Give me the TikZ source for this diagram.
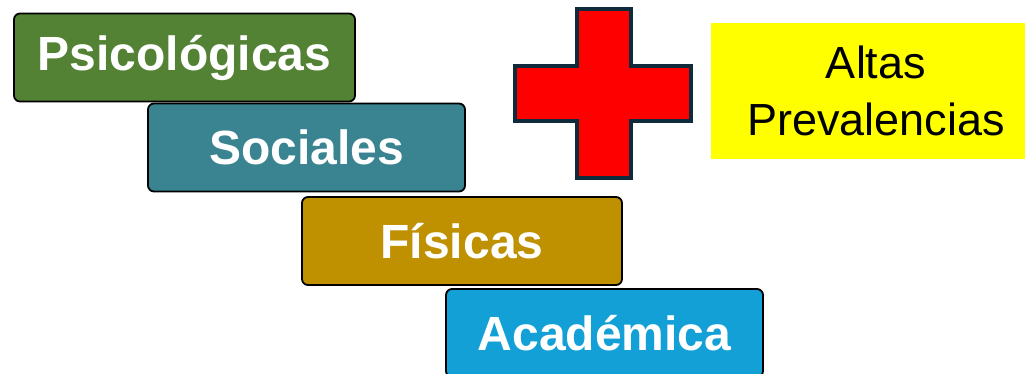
\documentclass[tikz,border=0pt]{standalone}
\usepackage{fontspec}
\setmainfont{Liberation Sans}
\definecolor{cgreen}{HTML}{548235}
\definecolor{cteal}{HTML}{3A8491}
\definecolor{cgold}{HTML}{BF9000}
\definecolor{cblue}{HTML}{12A0D7}
\definecolor{cnavy}{HTML}{0E2A3B}
\definecolor{cred}{HTML}{FF0000}
\definecolor{cyellow}{HTML}{FFFF00}
\tikzset{
  catbox/.style={draw=black, line width=1.8pt, rounded corners=6pt,
    minimum height=88pt, inner sep=0pt, text=white,
    font=\fontsize{48}{56}\selectfont\bfseries},
}
\begin{document}
\begin{tikzpicture}[x=1pt,y=-1pt]
\useasboundingbox (0,0) rectangle (1025,373);
\begin{scope}
\clip (0,0) rectangle (1025,373);
\node[catbox, fill=cgreen, minimum width=341pt] (psi) at (184.5,57.5) {Psicológicas};
\node[catbox, fill=cteal, minimum width=317pt] (soc) at (306.5,147.5) {Sociales};
\node[catbox, fill=cgold, minimum width=320pt] (fis) at (462,241) {Físicas};
\node[catbox, fill=cblue, minimum width=317pt] (aca) at (604.5,333) {Académica};
\draw[cnavy, fill=cred, line width=3.5pt]
  (577,9) -- (631,9) -- (631,66) -- (691,66) -- (691,121) -- (631,121)
  -- (631,178) -- (577,178) -- (577,121) -- (515,121) -- (515,66) -- (577,66) -- cycle;
\node[fill=cyellow, minimum width=330pt, minimum height=136pt, inner sep=0pt,
  align=center, font=\fontsize{45}{57}\selectfont] (alt) at (876,91) {Altas\\Prevalencias};
\end{scope}
\end{tikzpicture}
\end{document}
